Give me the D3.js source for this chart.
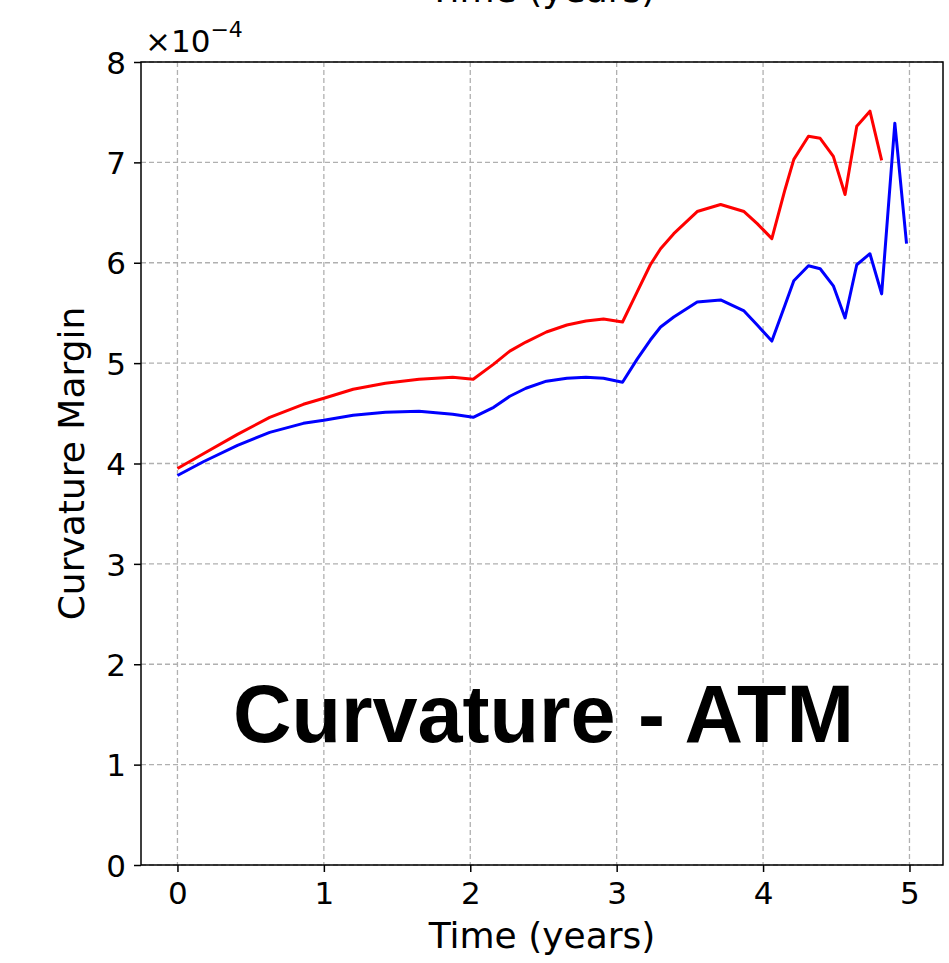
<!DOCTYPE html>
<html>
<head>
<meta charset="utf-8">
<script src="https://cdn.jsdelivr.net/npm/d3@7"></script>
<style>
  html, body { margin: 0; padding: 0; background: #fff; }
  svg { display: block; }
</style>
</head>
<body>
<svg id="chart" width="949" height="963"></svg>
<script>
// ---- data (values in units of 1e-4) ----
const times = [0, 0.18, 0.41, 0.63, 0.86, 1.0, 1.2, 1.42, 1.65, 1.88, 2.02, 2.16, 2.27, 2.38, 2.52, 2.66, 2.79, 2.91, 3.04,
  3.14, 3.23, 3.30, 3.39, 3.55, 3.71, 3.87, 3.96, 4.06, 4.15, 4.21, 4.31, 4.39, 4.48, 4.56, 4.64, 4.73, 4.81, 4.90, 4.98];
const redSeries = [3.95, 4.10, 4.29, 4.46, 4.59, 4.65, 4.74, 4.80, 4.84, 4.86, 4.84, 4.99, 5.12, 5.21, 5.31, 5.38, 5.42, 5.44, 5.41,
  5.71, 5.98, 6.14, 6.29, 6.51, 6.58, 6.51, 6.39, 6.24, 6.73, 7.03, 7.26, 7.24, 7.06, 6.68, 7.36, 7.51, 7.02, null, null];
const blueSeries = [3.88, 4.02, 4.18, 4.31, 4.40, 4.43, 4.48, 4.51, 4.52, 4.49, 4.46, 4.56, 4.67, 4.75, 4.82, 4.85, 4.86, 4.85, 4.81,
  5.04, 5.23, 5.36, 5.46, 5.61, 5.63, 5.52, 5.38, 5.22, 5.58, 5.82, 5.97, 5.94, 5.77, 5.45, 5.98, 6.09, 5.69, 7.39, 6.19];
const xTicks = [0, 1, 2, 3, 4, 5];
const yTicks = [0, 1, 2, 3, 4, 5, 6, 7, 8];
const xLabel = "Time (years)";
const yLabel = "Curvature Margin";
const overlayLabel = "Curvature - ATM";

// ---- layout ----
const svg = d3.select("#chart");
const L = 141, R = 943, T = 62, B = 865;
const font = "'DejaVu Sans', sans-serif";

const x = d3.scaleLinear().domain([-0.249, 5.229]).range([L, R]);
const y = d3.scaleLinear().domain([0, 8]).range([B, T]);

// grid
const grid = svg.append("g");
grid.selectAll("line.gx").data(xTicks).join("line")
  .attr("x1", d => x(d)).attr("x2", d => x(d)).attr("y1", T).attr("y2", B)
  .attr("stroke", "#b0b0b0").attr("stroke-width", 1.3).attr("stroke-dasharray", "5,3");
grid.selectAll("line.gy").data(yTicks).join("line")
  .attr("y1", d => y(d)).attr("y2", d => y(d)).attr("x1", L).attr("x2", R)
  .attr("stroke", "#b0b0b0").attr("stroke-width", 1.3).attr("stroke-dasharray", "5,3");

// lines
const data = times.map((t, i) => ({ t, r: redSeries[i], b: blueSeries[i] }));
const lineR = d3.line().defined(d => d.r != null).x(d => x(d.t)).y(d => y(d.r));
const lineB = d3.line().defined(d => d.b != null).x(d => x(d.t)).y(d => y(d.b));
svg.append("path").datum(data).attr("d", lineR).attr("fill", "none")
  .attr("stroke", "#ff0000").attr("stroke-width", 3).attr("stroke-linejoin", "round");
svg.append("path").datum(data).attr("d", lineB).attr("fill", "none")
  .attr("stroke", "#0000ff").attr("stroke-width", 3).attr("stroke-linejoin", "round");

// axes
const xAxis = svg.append("g").attr("transform", `translate(0,${B})`)
  .call(d3.axisBottom(x).tickValues(xTicks).tickSize(7).tickPadding(10).tickFormat(d3.format("d")));
const yAxis = svg.append("g").attr("transform", `translate(${L},0)`)
  .call(d3.axisLeft(y).tickValues(yTicks).tickSize(7).tickPadding(8).tickFormat(d3.format("d")));
[xAxis, yAxis].forEach(a => {
  a.select(".domain").remove();
  a.selectAll(".tick line").attr("stroke", "#000").attr("stroke-width", 1.5);
  a.selectAll(".tick text").attr("font-family", font).attr("font-size", 31).attr("fill", "#000");
});
yAxis.selectAll(".tick text").attr("dy", "0.36em");

// frame
svg.append("rect").attr("x", L).attr("y", T).attr("width", R - L).attr("height", B - T)
  .attr("fill", "none").attr("stroke", "#000").attr("stroke-width", 1.5);

// offset text ×10^-4
const off = svg.append("text").attr("x", 145).attr("y", 52)
  .attr("font-family", font).attr("font-size", 31).attr("fill", "#000");
off.append("tspan").text("×10");
off.append("tspan").attr("font-size", 22).attr("dy", -15).text("−4");

// axis labels
svg.append("text").attr("x", (L + R) / 2).attr("y", 948).attr("text-anchor", "middle")
  .attr("font-family", font).attr("font-size", 36).text(xLabel);
svg.append("text").attr("transform", `translate(84,${(T + B) / 2}) rotate(-90)`)
  .attr("text-anchor", "middle").attr("font-family", font).attr("font-size", 36).text(yLabel);

// cut-off label from the chart above
svg.append("text").attr("x", (L + R) / 2).attr("y", 2).attr("text-anchor", "middle")
  .attr("font-family", font).attr("font-size", 36).text(xLabel);

// overlay label
svg.append("text").attr("x", 233).attr("y", 742)
  .attr("font-family", "'Liberation Sans', Arial, sans-serif").attr("font-weight", "bold")
  .attr("font-size", 81).attr("fill", "#000").text(overlayLabel);
</script>
</body>
</html>
